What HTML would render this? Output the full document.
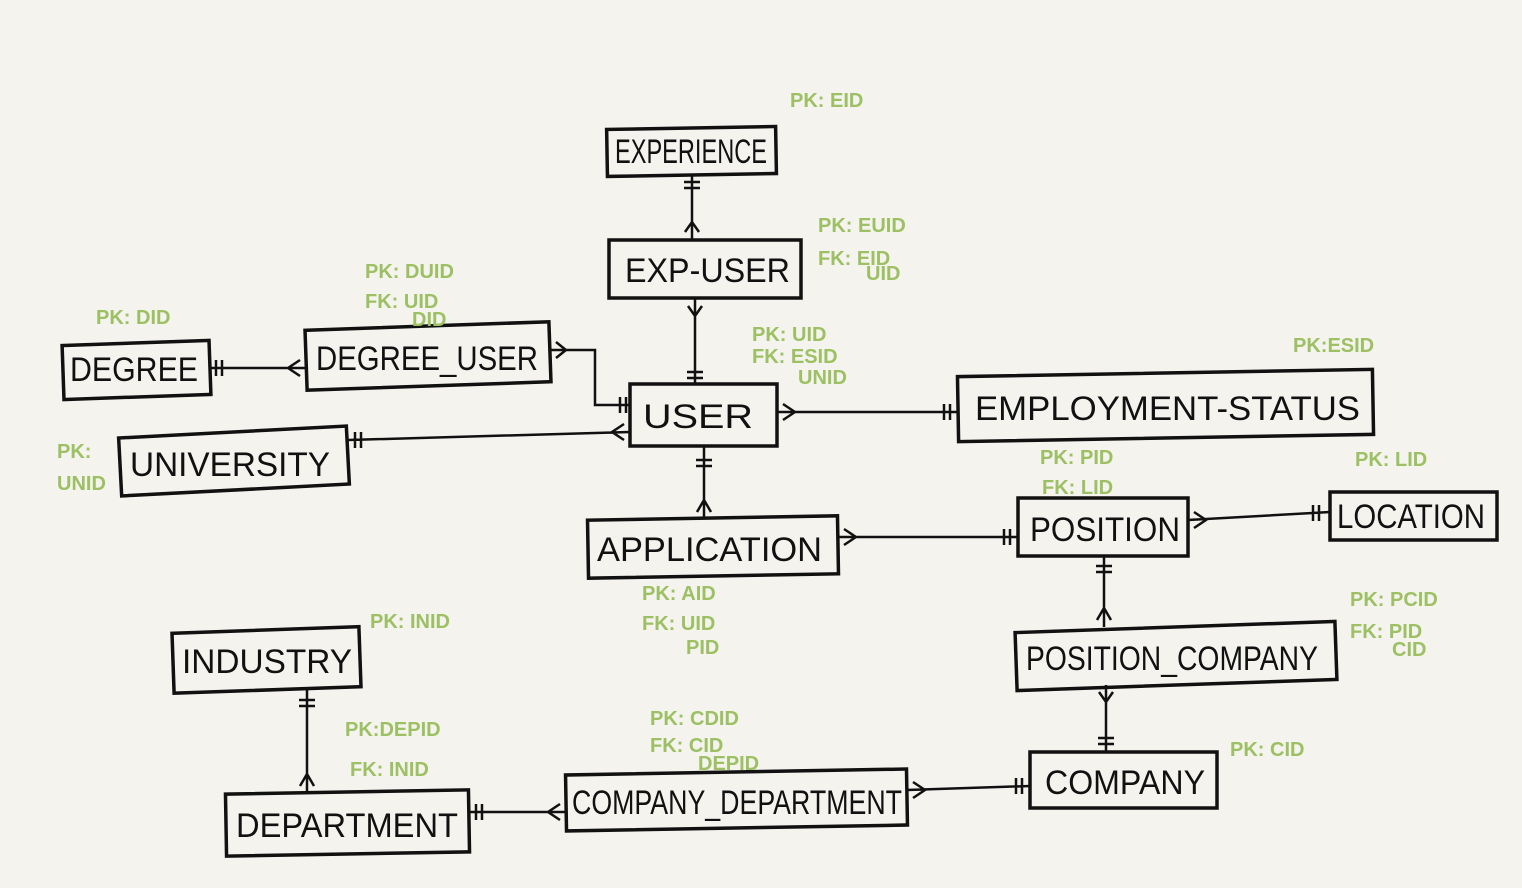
<!DOCTYPE html>
<html><head><meta charset="utf-8"><style>
html,body{margin:0;padding:0;background:#f4f3ee;}
svg{display:block}
.b{fill:none;stroke:#111;stroke-width:3.5}
.l{fill:none;stroke:#111;stroke-width:2.5}
.t{font-family:"Liberation Sans",sans-serif;font-size:34px;fill:#111;font-stretch:condensed}
.g{font-family:"Liberation Sans",sans-serif;font-size:20px;fill:#9cc063;font-weight:bold}
</style></head><body>
<svg width="1522" height="888" viewBox="0 0 1522 888">
<rect width="1522" height="888" fill="#f4f3ee"/>
<!-- boxes -->
<g>
<rect class="b" x="607" y="128" width="169" height="47" transform="rotate(-1 690 150)"/>
<text class="t" x="615" y="163" textLength="152" lengthAdjust="spacingAndGlyphs" font-size="28">EXPERIENCE</text>
<rect class="b" x="609" y="240" width="192" height="58"/>
<text class="t" x="625" y="282" textLength="165" lengthAdjust="spacingAndGlyphs">EXP-USER</text>
<rect class="b" x="63" y="343" width="147" height="54" transform="rotate(-2 136 370)"/>
<text class="t" x="70" y="381" textLength="128" lengthAdjust="spacingAndGlyphs">DEGREE</text>
<rect class="b" x="306" y="326" width="244" height="60" transform="rotate(-2 428 356)"/>
<text class="t" x="316" y="370" textLength="222" lengthAdjust="spacingAndGlyphs">DEGREE_USER</text>
<rect class="b" x="630" y="384" width="147" height="62"/>
<text class="t" x="643" y="428" textLength="110" lengthAdjust="spacingAndGlyphs" font-size="38">USER</text>
<rect class="b" x="958" y="373" width="415" height="65" transform="rotate(-1 1165 405)"/>
<text class="t" x="975" y="420" textLength="385" lengthAdjust="spacingAndGlyphs">EMPLOYMENT-STATUS</text>
<rect class="b" x="120" y="432" width="228" height="58" transform="rotate(-3 234 461)"/>
<text class="t" x="130" y="476" textLength="200" lengthAdjust="spacingAndGlyphs">UNIVERSITY</text>
<rect class="b" x="588" y="518" width="250" height="58" transform="rotate(-1 713 547)"/>
<text class="t" x="597" y="561" textLength="225" lengthAdjust="spacingAndGlyphs">APPLICATION</text>
<rect class="b" x="1018" y="498" width="170" height="58"/>
<text class="t" x="1030" y="541" textLength="150" lengthAdjust="spacingAndGlyphs">POSITION</text>
<rect class="b" x="1330" y="492" width="167" height="48"/>
<text class="t" x="1337" y="528" textLength="148" lengthAdjust="spacingAndGlyphs" font-size="28">LOCATION</text>
<rect class="b" x="1016" y="627" width="320" height="58" transform="rotate(-2 1176 656)"/>
<text class="t" x="1026" y="670" textLength="292" lengthAdjust="spacingAndGlyphs" font-size="30">POSITION_COMPANY</text>
<rect class="b" x="1030" y="752" width="187" height="56"/>
<text class="t" x="1045" y="794" textLength="160" lengthAdjust="spacingAndGlyphs">COMPANY</text>
<rect class="b" x="173" y="630" width="187" height="60" transform="rotate(-2 266 660)"/>
<text class="t" x="182" y="673" textLength="170" lengthAdjust="spacingAndGlyphs">INDUSTRY</text>
<rect class="b" x="226" y="792" width="243" height="62" transform="rotate(-1 347 823)"/>
<text class="t" x="236" y="837" textLength="222" lengthAdjust="spacingAndGlyphs">DEPARTMENT</text>
<rect class="b" x="566" y="772" width="341" height="56" transform="rotate(-1 736 800)"/>
<text class="t" x="572" y="814" textLength="330" lengthAdjust="spacingAndGlyphs" font-size="30">COMPANY_DEPARTMENT</text>
</g>
<!-- connectors -->
<g class="l">
<path d="M692 175 V240 M684 182 h16 M684 188 h16 M685 232 l7 -10 l7 10"/>
<path d="M695 298 V384 M687 372 h16 M687 378 h16 M688 306 l7 10 l7 -10"/>
<path d="M210 368 H306 M216 360 v16 M222 360 v16 M300 360 l-12 8 l12 8"/>
<path d="M550 350 H595 V405 H630 M620 397 v16 M626 397 v16 M556 342 l10 8 l-10 8"/>
<path d="M348 440 L630 432 M355 432 v16 M361 432 v16 M624 424 l-12 8 l12 8"/>
<path d="M777 412 H958 M944 404 v16 M950 404 v16 M783 404 l12 8 l-12 8"/>
<path d="M704 446 V518 M696 460 h16 M696 466 h16 M697 512 l7 -12 l7 12"/>
<path d="M838 537 H1018 M1004 529 v16 M1010 529 v16 M844 529 l12 8 l-12 8"/>
<path d="M1188 520 L1330 512 M1313 505 v16 M1319 505 v16 M1194 512 l12 8 l-12 8"/>
<path d="M1104 556 V627 M1096 566 h16 M1096 572 h16 M1097 620 l7 -12 l7 12"/>
<path d="M1106 685 V752 M1098 738 h16 M1098 744 h16 M1099 692 l7 10 l7 -10"/>
<path d="M907 790 L1030 786 M1016 778 v16 M1022 778 v16 M913 782 l12 8 l-12 8"/>
<path d="M469 812 H566 M476 804 v16 M482 804 v16 M560 804 l-12 8 l12 8"/>
<path d="M307 690 V792 M299 700 h16 M299 706 h16 M300 786 l7 -12 l7 12"/>
</g>
<!-- green labels -->
<g>
<text class="g" x="790" y="107" font-size="26">PK: EID</text>
<text class="g" x="818" y="232">PK: EUID</text>
<text class="g" x="818" y="265">FK: EID</text>
<text class="g" x="866" y="280">UID</text>
<text class="g" x="365" y="278">PK: DUID</text>
<text class="g" x="365" y="308">FK: UID</text>
<text class="g" x="412" y="326">DID</text>
<text class="g" x="96" y="324">PK: DID</text>
<text class="g" x="752" y="341">PK: UID</text>
<text class="g" x="752" y="363">FK: ESID</text>
<text class="g" x="798" y="384">UNID</text>
<text class="g" x="1293" y="352">PK:ESID</text>
<text class="g" x="57" y="458">PK:</text>
<text class="g" x="57" y="490">UNID</text>
<text class="g" x="1040" y="464">PK: PID</text>
<text class="g" x="1042" y="494">FK: LID</text>
<text class="g" x="1355" y="466">PK: LID</text>
<text class="g" x="642" y="600">PK: AID</text>
<text class="g" x="642" y="630">FK: UID</text>
<text class="g" x="686" y="654">PID</text>
<text class="g" x="1350" y="606">PK: PCID</text>
<text class="g" x="1350" y="638">FK: PID</text>
<text class="g" x="1392" y="656">CID</text>
<text class="g" x="370" y="628">PK: INID</text>
<text class="g" x="345" y="736">PK:DEPID</text>
<text class="g" x="350" y="776">FK: INID</text>
<text class="g" x="650" y="725">PK: CDID</text>
<text class="g" x="650" y="752">FK: CID</text>
<text class="g" x="698" y="770">DEPID</text>
<text class="g" x="1230" y="756">PK: CID</text>
</g>
</svg>
</body></html>
